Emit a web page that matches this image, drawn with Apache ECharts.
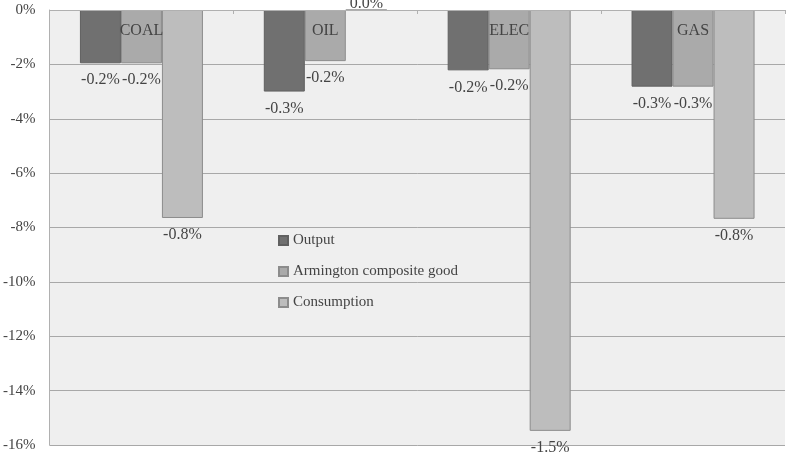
<!DOCTYPE html>
<html>
<head>
<meta charset="utf-8">
<script src="https://cdn.jsdelivr.net/npm/echarts@6/dist/echarts.min.js"></script>
<style>
  html, body { margin: 0; padding: 0; background: #fff; }
  #chart { width: 788px; height: 454px; }
</style>
</head>
<body>
<div id="chart"></div>
<script>
const categories = ["COAL", "OIL", "ELEC", "GAS"];
const output = [-1.96, -3.0, -2.22, -2.82];
const armington = [-1.96, -1.88, -2.18, -2.82];
const consumption = [-7.65, 0, -15.48, -7.68];
const yTicks = { min: -16, max: 0, step: 2 };

const font = "Liberation Serif";

const labelOpt = {
  show: true,
  position: "bottom",
  distance: 9,
  fontFamily: font,
  fontSize: 16,
  color: "#444",
  formatter: (p) => (p.value / 10).toFixed(1) + "%",
};

const chart = echarts.init(document.getElementById("chart"));
chart.setOption({
  animation: false,
  grid: {
    left: 49, right: 3, top: 10, bottom: 9,
    show: true, backgroundColor: "#efefef", borderWidth: 0,
  },
  legend: {
    orient: "vertical",
    left: 273, top: 228,
    icon: "rect",
    itemWidth: 9, itemHeight: 9, itemGap: 16,
    textStyle: { fontFamily: font, fontSize: 15, color: "#444" },
    data: ["Output", "Armington composite good", "Consumption"],
  },
  xAxis: {
    type: "category",
    position: "top",
    z: 10,
    data: categories,
    axisLine: { lineStyle: { color: "#b0b0b0" } },
    axisTick: { show: true, inside: true, length: 4, lineStyle: { color: "#b0b0b0" } },
    axisLabel: { inside: true, margin: 13, fontFamily: font, fontSize: 16, color: "#444" },
  },
  yAxis: {
    type: "value",
    min: yTicks.min, max: yTicks.max, interval: yTicks.step,
    axisLine: { show: true, lineStyle: { color: "#b0b0b0" } },
    axisTick: { show: false },
    splitLine: { lineStyle: { color: "#a8a8a8" } },
    axisLabel: { formatter: "{value}%", fontFamily: font, fontSize: 15, color: "#444", margin: 14 },
  },
  series: [
    {
      name: "Output", type: "bar", data: output,
      barWidth: 41, barGap: "0%",
      itemStyle: { color: "#707070", borderColor: "#606060", borderWidth: 1 },
      label: labelOpt,
    },
    {
      name: "Armington composite good", type: "bar", data: armington,
      barWidth: 41, barGap: "0%",
      itemStyle: { color: "#aaaaaa", borderColor: "#8c8c8c", borderWidth: 1 },
      label: labelOpt,
    },
    {
      name: "Consumption", type: "bar",
      data: consumption.map((v) => (v === 0 ? { value: v, label: { position: "top", distance: -2 } } : v)),
      barWidth: 41, barGap: "0%",
      itemStyle: { color: "#bdbdbd", borderColor: "#8c8c8c", borderWidth: 1 },
      label: labelOpt,
    },
  ],
});
</script>
</body>
</html>
